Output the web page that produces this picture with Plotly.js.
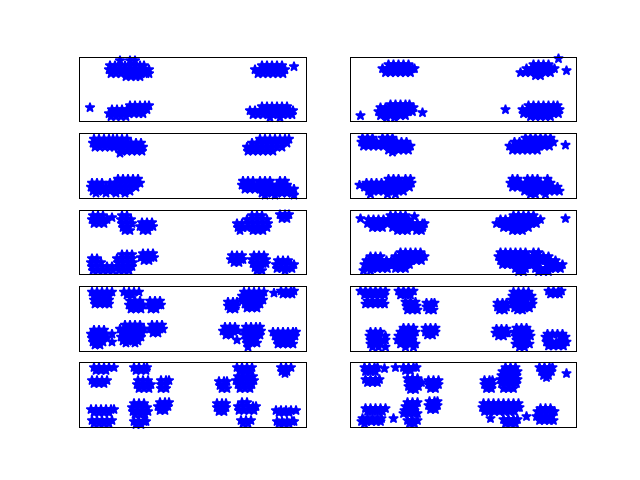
<!DOCTYPE html>
<html><head><meta charset="utf-8">
<script src="https://cdn.plot.ly/plotly-3.0.1.min.js"></script>
<style>html,body{margin:0;padding:0;background:#fff}#chart{width:640px;height:480px}</style>
</head><body><div id="chart"></div>
<script>
// Each row: [y, x1, x2, ...]  (x: pixels from left edge of panel, y: pixels from top edge of panel)
const s1 = [
[3, 40, 50, 55],
[8, 30, 35, 40, 45, 50, 55, 60, 64],
[12, 29, 34, 39, 44, 49, 54, 59, 64, 69],
[16, 31, 36, 41, 46, 51, 56, 61, 66, 69],
[19, 46, 51, 56, 60],
[8, 182, 187, 192, 197, 202],
[12, 175, 180, 185, 190, 195, 200, 205],
[16, 178, 183, 188, 193, 198, 203],
[9, 214],
[48, 50, 55, 60, 65, 69],
[52, 32, 37, 42, 47, 52, 57, 62, 67],
[56, 29, 34, 39, 44, 49, 54, 59, 63],
[59, 31, 36, 41, 46],
[50, 10],
[49, 182, 187, 192, 197, 202, 207],
[53, 170, 175, 180, 185, 190, 195, 200, 205, 210, 213],
[57, 173, 178, 183, 188, 193, 198, 203, 208, 212],
[60, 190, 200]
];
const s2 = [
[7, 38, 43, 48, 53, 58],
[11, 32, 37, 42, 47, 52, 57, 62, 64],
[15, 35, 40, 45, 50, 55, 60],
[7, 183, 188, 193, 198],
[11, 176, 181, 186, 191, 196, 201, 204],
[15, 170, 175, 180, 185, 190, 195, 200],
[18, 185, 190],
[1, 208], [13, 216],
[47, 40, 45, 50, 55, 59],
[50, 30, 35, 40, 45, 50, 55, 60, 63],
[54, 28, 33, 38, 43, 48, 53, 58, 62],
[58, 30, 35, 40, 45, 50, 55],
[60, 36, 44],
[58, 10], [55, 72],
[48, 178, 183, 188, 193, 198, 203, 207],
[52, 172, 177, 182, 187, 192, 197, 202, 207, 209],
[56, 173, 178, 183, 188, 193, 198, 203, 208],
[59, 180, 185, 190, 195, 200],
[52, 155]
];
const s3 = [
[5, 14, 19, 24, 29, 33, 37, 42, 47],
[9, 13, 18, 23, 28, 32, 36, 41, 46, 51, 56, 61],
[13, 15, 20, 25, 30, 34, 38, 43, 48, 53, 58, 63],
[17, 42, 47, 52, 57, 62],
[19, 40],
[5, 180, 185, 190, 195, 200, 205, 209],
[9, 172, 177, 182, 187, 192, 197, 202, 207],
[13, 167, 172, 177, 182, 187, 192, 197, 202],
[17, 168, 173, 178, 183, 188, 193],
[45, 38, 43, 48, 53, 58],
[49, 12, 17, 22, 30, 35, 40, 45, 50, 55, 60],
[53, 11, 16, 21, 26, 31, 36, 41, 46, 51, 56],
[57, 13, 18, 23, 30, 35, 40, 45, 50],
[59, 16, 26, 36, 45],
[47, 163, 168, 173, 180, 185, 190, 200, 205],
[51, 162, 167, 172, 177, 182, 187, 192, 197, 202, 207],
[55, 165, 170, 175, 180, 185, 190, 195, 200, 205, 210, 214],
[59, 182, 187, 192, 197, 202, 207, 212],
[61, 185, 195, 214]
];
const s4 = [
[4, 12, 17, 22, 32, 37, 42],
[8, 11, 16, 21, 26, 31, 36, 41, 46, 51, 56],
[12, 13, 18, 23, 28, 33, 38, 43, 48, 53, 58, 60],
[16, 38, 43, 48, 53, 58],
[18, 42],
[4, 175, 180, 185, 190, 195, 200],
[8, 164, 169, 174, 179, 184, 189, 194, 199, 203],
[12, 159, 164, 169, 174, 179, 184, 189, 194, 199],
[16, 162, 167, 172, 177, 182, 187],
[11, 215],
[45, 38, 43, 48, 55, 60],
[49, 16, 21, 26, 31, 36, 41, 46, 51, 56, 61],
[53, 14, 19, 24, 29, 34, 39, 44, 49, 54, 59],
[57, 18, 23, 28, 33, 38, 43, 48, 53],
[60, 20, 37, 45],
[51, 9],
[45, 162, 167, 177, 182, 187, 197],
[49, 160, 165, 170, 175, 180, 185, 190, 195, 200],
[53, 162, 167, 172, 177, 182, 187, 192, 197, 202, 207],
[57, 174, 179, 184, 189, 194, 199, 204, 209],
[60, 180, 185, 195]
];
const s5 = [
[5, 13, 18, 23], [9, 12, 17, 22, 27], [13, 14, 19, 24], [7, 32],
[5, 42, 47], [9, 41, 46, 51], [13, 42, 47, 52], [17, 43, 48], [20, 45, 50],
[12, 62, 67, 72], [16, 60, 65, 70, 73], [20, 63, 68],
[13, 157, 162], [17, 158, 163], [20, 160],
[5, 172, 177, 182], [9, 167, 172, 177, 182, 187], [13, 168, 173, 178, 183, 188], [17, 167, 172, 177, 182, 187], [20, 173, 178, 183],
[4, 200, 205, 209], [8, 202, 207],
[48, 12, 17], [52, 11, 16, 21], [56, 12, 17], [60, 13, 18],
[56, 22, 27, 32], [60, 23, 28, 33],
[44, 42, 47, 52], [48, 37, 42, 47, 52], [52, 38, 43, 48, 53], [56, 37, 42, 47, 52], [60, 39, 44, 49],
[43, 63, 68, 73], [47, 61, 66, 71, 74], [50, 64, 69],
[45, 152, 157, 162], [49, 151, 156, 161, 163], [52, 154, 159],
[45, 174, 179, 184], [49, 172, 177, 182, 186], [53, 173, 178, 183, 186], [57, 175, 180], [60, 177, 182],
[50, 198, 203, 208], [54, 196, 201, 206, 211, 214], [58, 197, 202, 207, 212], [60, 205]
];
const s6 = [
[8, 10], [6, 64],
[5, 40, 45, 50, 55],
[9, 18, 23, 28, 33, 38, 43, 48, 53, 58],
[13, 17, 22, 27, 32, 37, 42, 47, 52, 57, 62, 67, 72, 74],
[17, 22, 27, 32, 42, 47, 52, 57, 62, 67, 72],
[20, 47, 52, 57, 66, 71],
[5, 163, 168, 173, 178, 183],
[9, 150, 155, 160, 165, 170, 175, 180, 185, 190],
[13, 146, 151, 156, 161, 166, 171, 176, 181, 186],
[17, 153, 158, 163, 168, 173, 178],
[20, 162, 167, 172],
[8, 215],
[42, 50, 55, 60, 65, 70],
[46, 20, 25, 30, 45, 50, 55, 60, 65, 70, 74],
[50, 16, 21, 26, 31, 36, 41, 46, 51, 56, 61, 66, 71],
[54, 14, 19, 24, 29, 34, 39, 44, 49, 54, 59],
[58, 17, 22, 27, 32, 37, 45, 50, 55],
[60, 13, 20],
[42, 150, 155, 160, 165, 170, 175, 183, 188],
[46, 148, 153, 158, 163, 168, 173, 178, 183, 188, 193, 198],
[50, 150, 155, 160, 165, 170, 175, 180, 185, 190, 195, 200, 205],
[54, 152, 157, 162, 167, 172, 177, 182, 187, 197, 202, 207, 212],
[58, 165, 170, 175, 185, 190, 195, 200, 205, 210],
[61, 168, 173, 188, 193, 198]
];
const s7 = [
[5, 12, 17, 22, 27, 32], [9, 14, 19, 24, 29], [13, 14, 19, 24, 29], [17, 15, 20, 25, 29],
[5, 44, 49, 54, 59], [8, 47, 52],
[14, 50, 55, 60], [18, 49, 54, 59, 63], [22, 51, 56, 61],
[14, 70, 75, 80], [18, 69, 74, 79, 81], [22, 71, 76],
[15, 148, 153, 157], [19, 148, 153, 156], [22, 150, 155],
[5, 164, 169, 174, 179, 184], [9, 162, 167, 172, 177, 182], [13, 163, 168, 173, 178, 183], [17, 165, 170, 175, 180], [21, 167, 172, 177],
[6, 194],
[4, 201, 206, 211, 214], [7, 203, 208, 212],
[43, 14, 19, 24], [47, 11, 16, 21, 26, 32], [51, 12, 17, 22, 27], [55, 13, 18, 23, 32], [58, 15, 20],
[38, 45, 50, 55, 60], [42, 40, 45, 50, 55, 60, 64], [46, 42, 47, 52, 57, 62], [50, 41, 46, 51, 56, 61], [54, 43, 48, 53, 58], [56, 46, 55],
[38, 72, 77, 82], [42, 70, 75, 80, 83], [46, 73, 78],
[40, 145, 150, 155], [44, 143, 148, 153, 158], [48, 146, 151],
[53, 157],
[40, 166, 171, 176, 180], [44, 164, 169, 174, 179, 181], [48, 165, 170, 175, 180], [52, 166, 171, 176], [56, 167, 172, 177], [60, 168],
[45, 193, 198, 203, 208, 213, 216], [49, 195, 200, 205, 210, 215], [53, 197, 202, 207, 212], [57, 198, 203, 208, 213]
];
const s8 = [
[4, 10, 15, 20, 25, 30, 35], [8, 14, 19, 24, 29, 34], [14, 17, 22, 27, 32], [17, 15, 20, 25, 30, 34],
[4, 48, 53, 58, 63], [8, 50, 55, 60],
[15, 55, 60, 65], [19, 56, 61, 66], [23, 57, 62, 67],
[16, 76, 81, 84], [20, 76, 81], [23, 78, 83],
[16, 147, 152, 156], [20, 147, 152, 156], [23, 149, 154],
[5, 163, 168, 173, 178], [9, 162, 167, 172, 177, 181], [13, 161, 166, 171, 176, 182], [17, 162, 167, 172, 177, 182], [21, 164, 169, 174, 179], [23, 167, 172],
[4, 198, 203, 208, 211], [7, 200, 205, 209],
[45, 20, 25, 30], [49, 19, 24, 29, 35], [53, 20, 25, 30, 35], [57, 20, 25, 30], [60, 22, 28, 35],
[41, 53, 58, 63], [45, 50, 55, 60, 65], [49, 48, 53, 58, 63], [53, 47, 52, 57, 62], [57, 50, 55, 60, 65], [60, 55, 63],
[41, 75, 80, 85], [45, 75, 80, 85], [48, 77, 82],
[42, 146, 151, 156], [46, 145, 150, 155, 157], [49, 148, 153],
[41, 166, 171, 176], [45, 164, 169, 174, 179], [49, 165, 170, 175, 180], [53, 166, 171, 176], [57, 165, 170, 175, 179], [60, 169, 174],
[47, 197, 202, 207, 212], [50, 195, 200, 210, 215], [55, 196, 201, 206, 211, 216], [59, 198, 203, 208, 213]
];
const s9 = [
[4, 14, 19, 24, 29, 34], [7, 16, 21, 26],
[17, 12, 17, 22, 27], [20, 14, 19, 24],
[4, 54, 59, 64, 67], [7, 56, 61, 66],
[17, 58, 63, 68], [21, 57, 62, 67, 71], [25, 59, 64, 69],
[17, 81, 86, 89], [21, 81, 86], [25, 81, 86],
[18, 139, 144, 147], [22, 140, 145], [25, 142, 147],
[4, 157, 162, 167, 172], [8, 160, 165, 170], [13, 158, 163, 168, 173], [17, 156, 161, 166, 171, 174], [21, 158, 163, 168, 172], [25, 160, 165, 170],
[4, 201, 206, 211], [8, 202, 207], [10, 205],
[46, 11, 16, 21, 26, 31, 34], [49, 14, 19, 24, 29],
[57, 12, 17, 22, 27, 32], [60, 14, 19, 24, 29],
[40, 54, 59, 64], [44, 52, 57, 62, 67], [48, 53, 58, 63, 68], [51, 55, 60, 65],
[58, 54, 59, 64, 66], [61, 56, 61],
[39, 80, 85, 89], [43, 78, 83, 88], [47, 80, 85],
[40, 137, 142, 146], [44, 137, 142, 146], [48, 139, 144],
[39, 162, 167], [43, 158, 163, 168, 173, 176], [47, 159, 164, 169, 174],
[57, 161, 166, 171], [60, 163, 168],
[47, 196, 201, 206, 211, 216], [49, 199, 204, 209],
[58, 197, 202, 207, 212, 214], [60, 199, 204, 209]
];
const s10 = [
[4, 14, 19, 24, 27], [8, 15, 20, 25],
[5, 34], [4, 45],
[16, 15, 20, 25, 29], [19, 17, 22, 27],
[4, 53, 58, 63, 66], [7, 55, 60],
[15, 57, 62, 67], [19, 58, 63, 68, 71], [23, 58, 63, 68], [26, 60, 65],
[17, 78, 83, 88], [21, 78, 83, 88], [25, 80, 85],
[17, 134, 139, 142], [21, 134, 139, 142], [25, 136, 141],
[4, 155, 160, 165], [8, 152, 157, 162, 167], [12, 151, 156, 161, 166], [16, 150, 155, 160, 165, 167], [20, 151, 156, 161, 166], [25, 153, 158, 163],
[4, 189, 194, 199, 202], [8, 191, 196, 201], [12, 193, 198], [14, 196],
[10, 216],
[45, 15, 20, 25, 30, 35], [48, 17, 22, 27, 32],
[55, 12, 17, 22, 27, 31], [58, 11, 16, 21, 26, 30], [60, 14],
[55, 43],
[39, 57, 62, 67], [43, 55, 60, 65], [47, 54, 59, 64], [50, 53, 58, 63, 67],
[57, 57, 62, 67], [60, 59, 64],
[38, 79, 84, 87], [42, 78, 83, 87], [46, 80, 85],
[40, 133, 138, 143, 148, 153, 158, 163, 168], [44, 132, 137, 142, 147, 152, 157, 162, 167, 169], [48, 134, 139, 144, 149, 154, 159, 164],
[55, 140],
[56, 153, 158, 163, 167], [60, 155, 160, 165],
[53, 176],
[45, 190, 195, 200], [48, 187, 192, 197, 202, 204], [53, 186, 191, 196, 201], [57, 189, 194, 199, 203]
];

const panels = [s1, s2, s3, s4, s5, s6, s7, s8, s9, s10];

function flat(rows) {
  const x = [], y = [];
  rows.forEach(r => { for (let i = 1; i < r.length; i++) { x.push(r[i]); y.push(r[0]); } });
  return {x, y};
}

const W = 640, H = 480;
const xDom = [[80 / W, 305.5 / W], [350.5 / W, 576 / W]];
const hAx = 0.77 / 5.8;
const traces = [];
const layout = {
  width: W, height: H,
  margin: {l: 0, r: 0, t: 0, b: 0},
  paper_bgcolor: '#fff', plot_bgcolor: '#fff',
  showlegend: false
};
panels.forEach((rows, k) => {
  const row = Math.floor(k / 2), col = k % 2;
  const top = 0.88 - row * 1.2 * hAx;
  const d = flat(rows);
  const id = k === 0 ? '' : String(k + 1);
  traces.push({
    type: 'scatter', mode: 'markers', x: d.x, y: d.y,
    xaxis: 'x' + id, yaxis: 'y' + id, cliponaxis: false,
    marker: {symbol: 'star', size: 7, color: '#0000ff', line: {color: '#0000ff', width: 1.5}},
    hoverinfo: 'skip'
  });
  const common = {showticklabels: false, ticks: '', showgrid: false, zeroline: false,
    showline: true, mirror: true, linecolor: '#000', linewidth: 1, fixedrange: true};
  layout['xaxis' + id] = Object.assign({domain: xDom[col], range: [0, 225.5], anchor: 'y' + id}, common);
  layout['yaxis' + id] = Object.assign({domain: [top - hAx, top], range: [63.7, 0], anchor: 'x' + id}, common);
});
Plotly.newPlot('chart', traces, layout, {staticPlot: true});
</script>
</body></html>
